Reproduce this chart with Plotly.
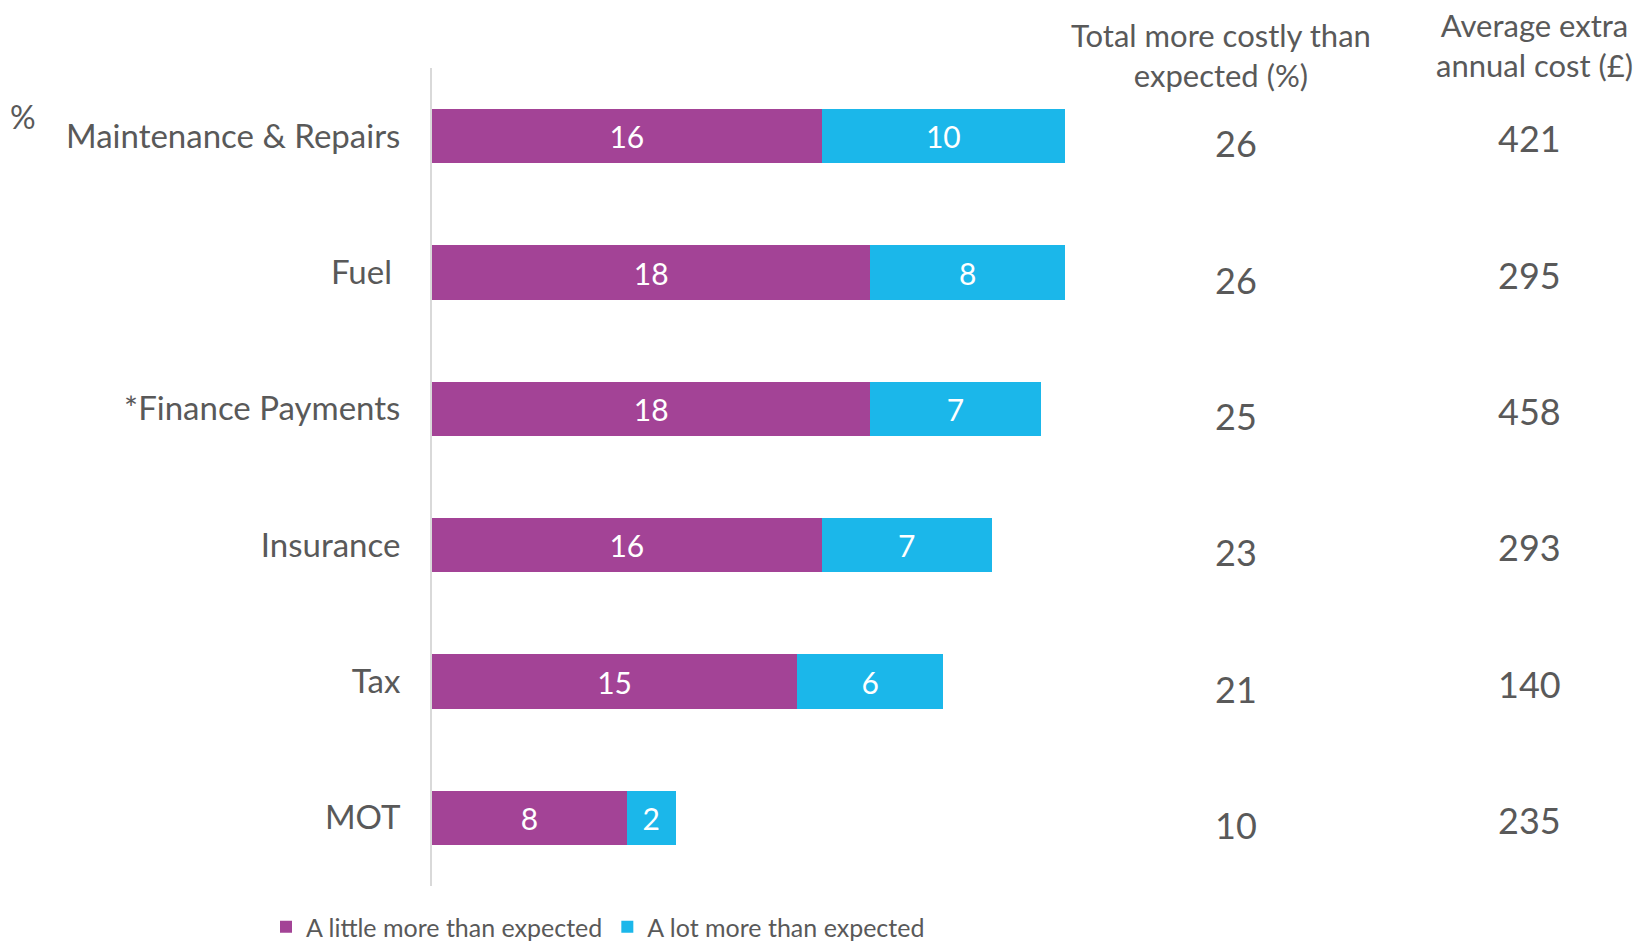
import plotly.graph_objects as go

categories = ["Maintenance & Repairs", "Fuel ", "*Finance Payments", "Insurance", "Tax", "MOT"]
little_more = [16, 18, 18, 16, 15, 8]
lot_more = [10, 8, 7, 7, 6, 2]
total_more = [26, 26, 25, 23, 21, 10]
avg_extra_cost = [421, 295, 458, 293, 140, 235]

series_names = ["A little more than expected", "A lot more than expected"]
col_headers = ["Total more costly than<br>expected (%)", "Average extra<br>annual cost (£)"]

PURPLE = "#A34396"
CYAN = "#1BB7EA"
GREY = "#595959"
FONT = "Lato"

W, H = 1638, 946
L, T, B = 432, 68, 60
plot_w = W - L
ph = H - T - B
px_per_unit = 24.35


def px_x(px):
    return (px - L) / plot_w


def px_y(py):
    return (H - B - py) / ph


fig = go.Figure()
for vals, name, col in [(little_more, series_names[0], PURPLE), (lot_more, series_names[1], CYAN)]:
    fig.add_trace(go.Bar(
        y=categories, x=vals, orientation="h", name=name,
        marker=dict(color=col, line=dict(width=0)),
        text=vals, textposition="inside", insidetextanchor="middle",
        textfont=dict(color="white", size=30, family=FONT), constraintext="none",
        hoverinfo="skip",
    ))

ann = []
for i, cat in enumerate(categories):
    ann.append(dict(x=px_x(1236), xref="paper", xanchor="center", y=cat, yref="y",
                    yanchor="middle", text=str(total_more[i]), showarrow=False, yshift=-7,
                    font=dict(size=36, color=GREY, family=FONT)))
    ann.append(dict(x=px_x(1529), xref="paper", xanchor="center", y=cat, yref="y",
                    yanchor="middle", text=str(avg_extra_cost[i]), showarrow=False, yshift=-2,
                    font=dict(size=36, color=GREY, family=FONT)))

for txt, xc, yc in [(col_headers[0], 1221, 55), (col_headers[1], 1534, 45)]:
    ann.append(dict(x=px_x(xc), xref="paper", xanchor="center", y=px_y(yc), yref="paper",
                    yanchor="middle", text=txt, showarrow=False, align="center",
                    font=dict(size=31, color=GREY, family=FONT)))

ann.append(dict(x=px_x(23), xref="paper", xanchor="center", y=px_y(117), yref="paper",
                yanchor="middle", text="%", showarrow=False,
                font=dict(size=32, color=GREY, family=FONT)))

fig.update_layout(
    width=W, height=H, barmode="stack", bargap=0.6,
    margin=dict(l=L, r=0, t=T, b=B, pad=0, autoexpand=False),
    paper_bgcolor="white", plot_bgcolor="white",
    font=dict(family=FONT, color=GREY),
    showlegend=True,
    legend=dict(orientation="h", x=px_x(266), xanchor="left",
                y=px_y(927), yanchor="middle",
                font=dict(size=25, color=GREY, family=FONT),
                itemwidth=30, traceorder="normal", bgcolor="rgba(0,0,0,0)"),
    annotations=ann,
    xaxis=dict(range=[0, plot_w / px_per_unit], showgrid=False, zeroline=False,
               showticklabels=False, showline=False, fixedrange=True),
    yaxis=dict(autorange="reversed", showgrid=False, zeroline=False,
               showline=True, linecolor="#D9D9D9", linewidth=2,
               ticks="", ticklabelstandoff=23,
               tickfont=dict(size=33, color=GREY, family=FONT)),
)

fig.write_html("out.html", config={"displayModeBar": False},
               post_script="document.body.style.margin='0';document.body.style.overflow='hidden';")
